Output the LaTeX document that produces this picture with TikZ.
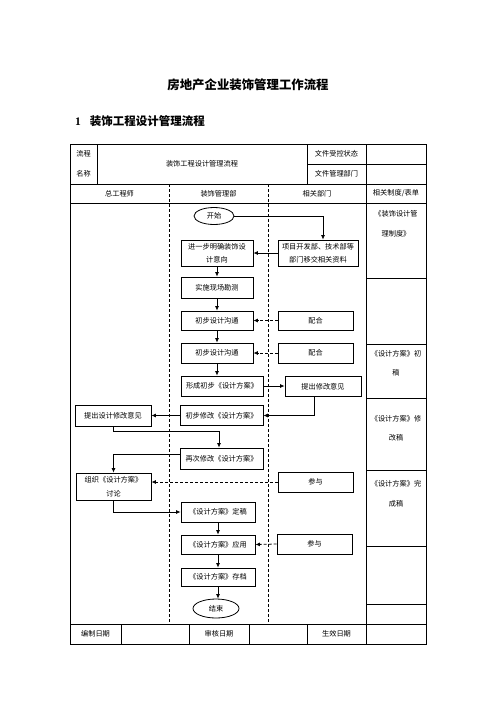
\documentclass[tikz,border=0pt]{standalone}
\usepackage{fontspec}
\setmainfont{Noto Sans CJK SC}
\newfontfamily\numfont{Liberation Serif}
\usetikzlibrary{shapes.geometric,arrows.meta}

\begin{document}
\begin{tikzpicture}[x=1pt,y=-1pt]
\tikzstyle{every node}=[font=\fontsize{7.2}{13}\selectfont,inner sep=0pt];
\tikzstyle{box}=[draw,line width=0.8pt,minimum height=20pt];
\tikzstyle{oval}=[draw,ellipse,line width=0.8pt];
\tikzstyle{rule}=[line width=0.8pt];
\tikzstyle{lane}=[line width=0.8pt,dash pattern=on 3pt off 2pt];
\tikzstyle{flow}=[line width=0.8pt,-{Latex[length=4.5pt,width=4pt]}];
\tikzstyle{help}=[flow,dash pattern=on 3pt off 2pt];
\useasboundingbox (0,0) rectangle (496,702);

\node (title) at (248,85) {\fontsize{12.4}{14}\selectfont\bfseries 房地产企业装饰管理工作流程};
\node[anchor=west] (sec) at (75,121) {\fontsize{11.5}{14}\selectfont\bfseries{\numfont 1}\hspace{9pt}装饰工程设计管理流程};

% table
\draw[rule] (70,144) rectangle (426,644);
\draw[rule] (70,184) -- (426,184);
\draw[rule] (70,203) -- (426,203);
\draw[rule] (70,624) -- (426,624);
\draw[rule] (307,164) -- (426,164);
\draw[rule] (97,144) -- (97,184);
\draw[rule] (307,144) -- (307,184);
\draw[rule] (366,144) -- (366,644);
\foreach \x in {121,189,249,307} \draw[rule] (\x,624) -- (\x,644);
\foreach \y in {278,344,398,470,546,604} \draw[rule] (366,\y) -- (426,\y);
\draw[lane] (169,184) -- (169,624);
\draw[lane] (268,184) -- (268,624);

\node (liucheng) at (83.5,154) {流程};
\node (mingcheng) at (83.5,173.5) {名称};
\node (pname) at (202,164) {装饰工程设计管理流程};
\node (shoukong) at (336.5,154) {文件受控状态};
\node (guanli) at (336.5,174) {文件管理部门};
\node (lane1) at (119.5,193.5) {总工程师};
\node (lane2) at (218.5,193.5) {装饰管理部};
\node (lane3) at (317,193.5) {相关部门};
\node (lane4) at (396,193.5) {相关制度/表单};

\node[align=center,font=\fontsize{7.2}{19.5}\selectfont] (doc1) at (396,224) {《装饰设计管\\理制度》};
\node[align=center,font=\fontsize{7.2}{19.5}\selectfont] (doc2) at (396,363) {《设计方案》初\\稿};
\node[align=center,font=\fontsize{7.2}{19.5}\selectfont] (doc3) at (396,428) {《设计方案》修\\改稿};
\node[align=center,font=\fontsize{7.2}{19.5}\selectfont] (doc4) at (396,493.5) {《设计方案》完\\成稿};

\node (bianzhi) at (95.5,634) {编制日期};
\node (shenhe) at (219,634) {审核日期};
\node (shengxiao) at (336.5,634) {生效日期};

% flow
\node[oval,minimum width=40pt,minimum height=17pt] (start) at (214,216) {开始};
\node[box,minimum width=72pt,minimum height=26pt,align=center] (mingque) at (217,253) {进一步明确装饰设\\计意向};
\node[box,minimum width=80pt,minimum height=26pt,align=center] (yijiao) at (318,253) {项目开发部、技术部等\\部门移交相关资料};
\node[box,minimum width=72pt,minimum height=21pt] (kancha) at (217,287.5) {实施现场勘测};
\node[box,minimum width=72pt,minimum height=19pt] (goutong1) at (217,320.5) {初步设计沟通};
\node[box,minimum width=75pt,minimum height=19pt] (peihe1) at (315.5,320.5) {配合};
\node[box,minimum width=72pt,minimum height=20pt] (goutong2) at (217,353) {初步设计沟通};
\node[box,minimum width=75pt,minimum height=20pt] (peihe2) at (315.5,353) {配合};
\node[box,minimum width=82pt,minimum height=20pt] (xingcheng) at (222,386) {形成初步《设计方案》};
\node[box,minimum width=76pt,minimum height=20pt] (yijian) at (323,386.5) {提出修改意见};
\node[box,minimum width=83pt,minimum height=20pt] (xiugai1) at (221.5,415.5) {初步修改《设计方案》};
\node[box,minimum width=76pt,minimum height=21pt] (zgyijian) at (113,415.5) {提出设计修改意见};
\node[box,minimum width=83pt,minimum height=21pt] (xiugai2) at (221.5,458.5) {再次修改《设计方案》};
\node[box,minimum width=75pt,minimum height=27pt,align=center,font=\fontsize{7.2}{14}\selectfont] (taolun) at (113.5,486.5) {组织《设计方案》\\讨论};
\node[box,minimum width=75pt,minimum height=20pt] (canyu1) at (315.5,482) {参与};
\node[box,minimum width=74pt,minimum height=20pt] (dinggao) at (218,512) {《设计方案》定稿};
\node[box,minimum width=74pt,minimum height=19pt] (yingyong) at (218,544.5) {《设计方案》应用};
\node[box,minimum width=75pt,minimum height=20pt] (canyu2) at (314.5,544) {参与};
\node[box,minimum width=74pt,minimum height=18pt] (cundang) at (218,577) {《设计方案》存档};
\node[oval,minimum width=46pt,minimum height=19pt] (end) at (216,608.5) {结束};

\draw[flow] (start.east) -| ([xshift=5pt]yijiao.north);
\draw[flow] (yijiao.west) -- (mingque.east);
\draw[flow] (mingque.south) -- (kancha.north);
\draw[flow] (kancha.south) -- (goutong1.north);
\draw[flow] (goutong1.south) -- (goutong2.north);
\draw[flow] (goutong2.south) -- (goutong2.south |- xingcheng.north);
\draw[help] (peihe1.west) -- (goutong1.east);
\draw[help] (peihe2.west) -- (goutong2.east);
\draw[flow] (xingcheng.east) -- (xingcheng.east -| yijian.west);
\draw[flow] ([xshift=-9pt]yijian.south) |- (xiugai1.east);
\draw[flow] (xiugai1.west) -- (zgyijian.east);
\draw[flow] (zgyijian.south) -- ++(0,5) -| ([xshift=-2.5pt]xiugai2.north);
\draw[flow] ([yshift=4.5pt]xiugai2.west) -| (taolun.north);
\draw[help] (canyu1.west) -- (canyu1.west -| taolun.east);
\draw[flow] (taolun.south) |- (dinggao.west);
\draw[flow] (dinggao.south) -- (yingyong.north);
\draw[help] (canyu2.west) -- (yingyong.east);
\draw[flow] (yingyong.south) -- (cundang.north);
\draw[flow] (cundang.south) -- (cundang.south |- end.north);
\end{tikzpicture}
\end{document}
